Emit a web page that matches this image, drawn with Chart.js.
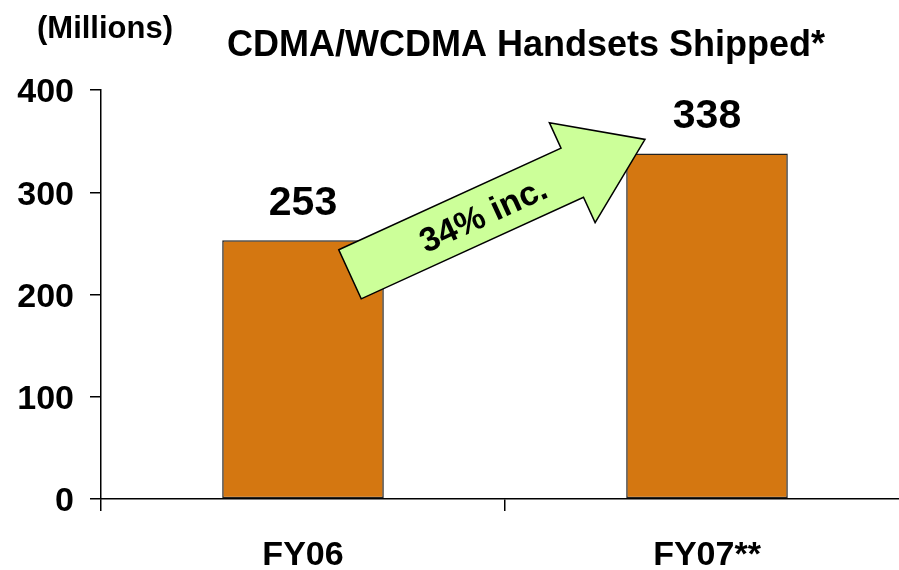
<!DOCTYPE html>
<html>
<head>
<meta charset="utf-8">
<script src="https://cdn.jsdelivr.net/npm/chart.js@4"></script>
<style>
  html, body { margin: 0; padding: 0; background: #fff; overflow: hidden; }
  #wrap { width: 899px; height: 570px; overflow: hidden; position: relative; }
  #wrap canvas { position: absolute; left: 0; top: 0; }
</style>
</head>
<body>
<div id="wrap"><canvas id="myChart" width="912" height="570" style="width:912px;height:570px"></canvas></div>
<script>
// data
var categories = ["FY06", "FY07**"];
var shipped = [253, 338];
var yTicks = [0, 100, 200, 300, 400];
var titleText = "CDMA/WCDMA Handsets Shipped*";
var unitText = "(Millions)";
var arrowText = "34% inc.";

var FONT = "'Liberation Sans', Arial, sans-serif";

// title + unit label
var titlePlugin = {
  id: "titles",
  afterDraw: function(chart) {
    var ctx = chart.ctx;
    ctx.save();
    ctx.fillStyle = "#000";
    ctx.textBaseline = "alphabetic";
    ctx.font = "bold 31px " + FONT;
    ctx.textAlign = "left";
    ctx.fillText(unitText, 37, 38);
    ctx.font = "bold 36px " + FONT;
    ctx.textAlign = "center";
    ctx.fillText(titleText, 526, 56);
    ctx.restore();
  }
};

// value labels above bars
var valuePlugin = {
  id: "values",
  afterDatasetsDraw: function(chart) {
    var ctx = chart.ctx;
    var meta = chart.getDatasetMeta(0);
    ctx.save();
    ctx.fillStyle = "#000";
    ctx.font = "bold 41px " + FONT;
    ctx.textAlign = "center";
    ctx.textBaseline = "alphabetic";
    meta.data.forEach(function(bar, i) {
      ctx.fillText(String(shipped[i]), bar.x, bar.y - 25);
    });
    ctx.restore();
  }
};

// growth arrow between the two bars
var arrowPlugin = {
  id: "arrow",
  afterDatasetsDraw: function(chart) {
    var meta = chart.getDatasetMeta(0);
    var b1 = meta.data[0], b2 = meta.data[1];
    var tx = b1.x + 47, ty = b1.y + 34;   // tail centre
    var hx = b2.x - 62, hy = b2.y - 14;   // tip
    var ang = Math.atan2(hy - ty, hx - tx);
    var len = Math.sqrt((hx - tx) * (hx - tx) + (hy - ty) * (hy - ty));
    var headLen = 80, bodyW = 27, headW = 55;
    var ctx = chart.ctx;
    ctx.save();
    ctx.translate(tx, ty);
    ctx.rotate(ang);
    ctx.beginPath();
    ctx.moveTo(0, -bodyW);
    ctx.lineTo(len - headLen, -bodyW);
    ctx.lineTo(len - headLen, -headW);
    ctx.lineTo(len, 0);
    ctx.lineTo(len - headLen, headW);
    ctx.lineTo(len - headLen, bodyW);
    ctx.lineTo(0, bodyW);
    ctx.closePath();
    ctx.fillStyle = "#CCFF99";
    ctx.fill();
    ctx.lineWidth = 1.5;
    ctx.strokeStyle = "#000";
    ctx.stroke();
    ctx.fillStyle = "#000";
    ctx.font = "bold 34px " + FONT;
    ctx.textAlign = "center";
    ctx.textBaseline = "middle";
    ctx.fillText(arrowText, len * 0.45, 3);
    ctx.restore();
  }
};

var ctx = document.getElementById("myChart").getContext("2d");
var myChart = new Chart(ctx, {
  type: "bar",
  data: {
    labels: categories,
    datasets: [{
      label: "Handsets",
      data: shipped,
      backgroundColor: "#D47711",
      borderColor: "#222222",
      borderWidth: 1.5,
      borderSkipped: false,
      barPercentage: 0.4,
      categoryPercentage: 1.0
    }]
  },
  plugins: [titlePlugin, valuePlugin, arrowPlugin],
  options: {
    responsive: false,
    animation: false,
    devicePixelRatio: 1,
    layout: { padding: { top: 90, right: 3, left: 0, bottom: 0 } },
    plugins: {
      legend: { display: false },
      tooltip: { enabled: false },
      title: { display: false }
    },
    scales: {
      x: {
        offset: true,
        grid: {
          offset: true,
          drawOnChartArea: false,
          drawTicks: true,
          tickLength: 12,
          color: "#000",
          lineWidth: 1.5
        },
        border: { display: true, color: "#000", width: 1.5 },
        ticks: {
          color: "#000",
          font: { family: FONT, size: 34, weight: "bold" },
          padding: 24,
          maxRotation: 0
        },
        afterFit: function(scale) { scale.height = 71; }
      },
      y: {
        min: 0,
        max: 400,
        afterBuildTicks: function(scale) {
          scale.ticks = yTicks.map(function(v) { return { value: v }; });
        },
        grid: {
          drawOnChartArea: false,
          drawTicks: true,
          tickLength: 11,
          color: "#000",
          lineWidth: 1.5
        },
        border: { display: true, color: "#000", width: 1.5 },
        ticks: {
          color: "#000",
          font: { family: FONT, size: 34, weight: "bold" },
          padding: 16,
          labelOffset: 3
        },
        afterFit: function(scale) { scale.width = 101; }
      }
    }
  }
});
</script>
</body>
</html>
